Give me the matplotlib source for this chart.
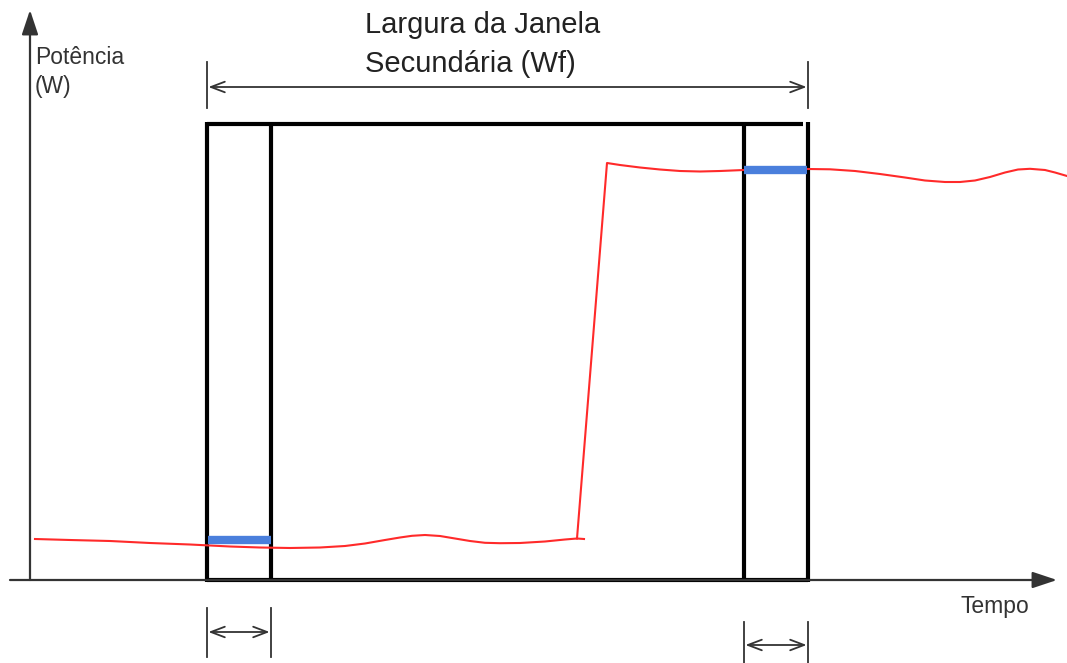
import matplotlib.pyplot as plt

# everything in pixel coordinates of the 1067x663 picture (y goes down)
W, H = 1067, 663

# window edges (x) and levels (y)
win_left, win_inner_left = 207, 271
win_inner_right, win_right = 744, 808
win_top, base_y = 124, 580

# power signal
low_x = [35, 70, 110, 150, 190, 230, 260, 290, 320, 345, 365, 385, 400, 412, 425, 440, 455, 470, 485, 500, 520, 545, 565, 577, 584]
low_y = [539, 540, 541, 543, 544.5, 546.5, 547.5, 548, 547.5, 546, 543.5, 540, 537.5, 535.8, 535, 536, 538.5, 541, 542.8, 543.2, 543, 541.5, 539.5, 538.5, 539]
high_x = [577, 607, 620, 640, 660, 680, 700, 720, 744, 780, 808, 830, 855, 880, 905, 925, 945, 960, 975, 990, 1005, 1018, 1030, 1045, 1055, 1067]
high_y = [538.5, 163, 165, 167.5, 169.5, 171, 171.5, 171, 170, 169.3, 169, 169.3, 171, 174, 177.5, 180.5, 182, 182, 180.5, 177, 172.5, 169.5, 168.8, 170, 172.5, 176]

# mean markers (blue)
blue_left_y = 540
blue_right_y = 170

title_lines = ["Largura da Janela", "Secundária (Wf)"]
ylabel_lines = ["Potência", "(W)"]
xlabel = "Tempo"

fig = plt.figure(figsize=(W / 100, H / 100), dpi=100)
ax = fig.add_axes([0, 0, 1, 1])
ax.set_xlim(0, W)
ax.set_ylim(H, 0)
ax.axis('off')

dark = '#333333'

# axes with arrows
axis_arrow = dict(arrowstyle='-|>,head_length=0.75,head_width=0.25', color=dark, lw=1.6,
                  mutation_scale=20, shrinkA=0, shrinkB=0)
ax.annotate('', xy=(30, 10), xytext=(30, base_y), arrowprops=axis_arrow)
ax.annotate('', xy=(1057, base_y), xytext=(10, base_y), arrowprops=axis_arrow)

# window box
k = dict(color='black', lw=3, solid_capstyle='butt')
ax.plot([win_left, win_left], [win_top - 2, base_y + 1.5], **k)
ax.plot([win_inner_left, win_inner_left], [win_top, base_y], **k)
ax.plot([win_inner_right, win_inner_right], [win_top, base_y], **k)
ax.plot([win_right, win_right], [win_top - 2, base_y + 1.5], **k)
ax.plot([win_left, win_right - 5], [win_top, win_top], **k)
ax.plot([win_left, win_right], [base_y, base_y], **k)

# red signal
ax.plot(low_x, low_y, color='#ff2a2a', lw=1.5)
ax.plot(high_x, high_y, color='#ff2a2a', lw=1.5)

# blue markers
ax.plot([win_left + 1, win_inner_left], [blue_left_y, blue_left_y], color='#4a7fdc', lw=6, solid_capstyle='butt')
ax.plot([win_inner_right, win_right - 1], [blue_right_y, blue_right_y], color='#4a7fdc', lw=6, solid_capstyle='butt')

# dimension arrows
def dim(x0, x1, y, y0, y1):
    ax.plot([x0, x0], [y0, y1], color=dark, lw=1.3)
    ax.plot([x1, x1], [y0, y1], color=dark, lw=1.3)
    ax.annotate('', xy=(x1, y), xytext=(x0, y),
                arrowprops=dict(arrowstyle='<->,head_length=1.0,head_width=0.38', color=dark, lw=1.3,
                                mutation_scale=10, shrinkA=1, shrinkB=1))

dim(win_left, win_right, 87, 62, 108)
dim(win_left, win_inner_left, 632, 608, 657)
dim(win_inner_right, win_right, 645, 622, 663)

# texts
for y, s in zip([25, 64], title_lines):
    ax.text(365, y, s, ha='left', va='center', fontsize=21, color='#222222', family='Liberation Sans')
for y, s in zip([58, 87], ylabel_lines):
    ax.text(35, y, s, ha='left', va='center', fontsize=16.5, color=dark, family='Liberation Sans')
ax.text(995, 607, xlabel, ha='center', va='center', fontsize=16.5, color=dark, family='Liberation Sans')

fig.savefig('out.png', dpi=100)
plt.close(fig)
